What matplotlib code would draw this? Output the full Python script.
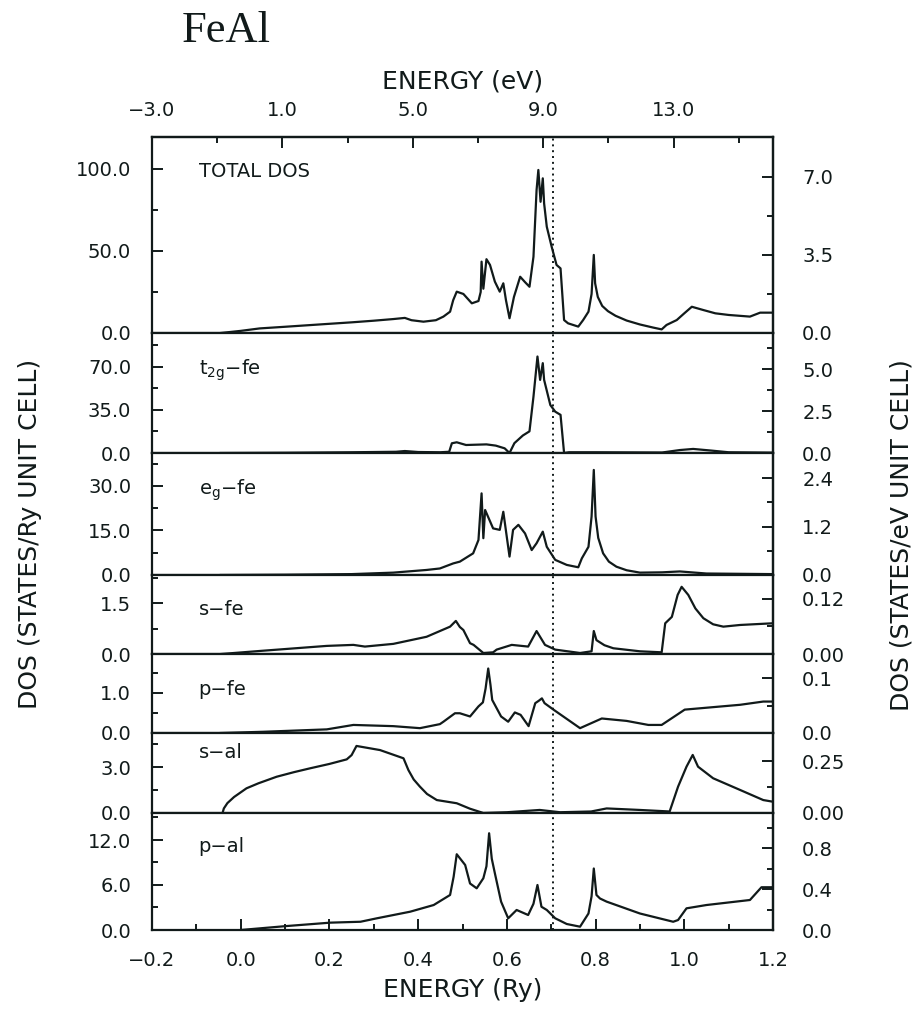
import matplotlib
matplotlib.use("Agg")
import matplotlib.pyplot as plt
from matplotlib.ticker import FixedLocator, FixedFormatter

RY2EV = 13.6057
EV_SHIFT = -0.28   # top axis offset
E_FERMI = 0.705

# ---- data (states/Ry unit cell) ----
e_total = [-0.045, 0.0, 0.043, 0.1, 0.194, 0.25, 0.30, 0.344, 0.370, 0.385, 0.412, 0.44, 0.457,
           0.472, 0.479, 0.487, 0.502, 0.521, 0.536, 0.541, 0.543, 0.547, 0.554, 0.562, 0.573,
           0.584, 0.592, 0.598, 0.606, 0.616, 0.630, 0.641, 0.651, 0.660, 0.667, 0.671, 0.676,
           0.681, 0.684, 0.690, 0.701, 0.712, 0.721, 0.729, 0.738, 0.761, 0.772, 0.784, 0.791,
           0.796, 0.799, 0.805, 0.815, 0.828, 0.845, 0.87, 0.90, 0.93, 0.949, 0.960, 0.983,
           1.0, 1.017, 1.043, 1.07, 1.10, 1.148, 1.171, 1.2]
dos_total = [0, 1.3, 2.8, 3.8, 5.5, 6.5, 7.5, 8.5, 9.2, 7.8, 6.9, 7.8, 10,
             13, 20, 25.2, 23.8, 18.1, 19.5, 25, 43.5, 27, 45, 41.5, 31.3,
             25.2, 30.3, 20, 9.0, 22, 34.3, 31, 28.2, 46.5, 87.2, 99.4, 80,
             94.3, 79, 64.8, 52.6, 41.5, 39.4, 7.9, 5.9, 3.9, 7.9, 13, 23.8,
             47.6, 30.3, 22, 16.5, 13.3, 10.5, 7.6, 5.2, 3.3, 2.2, 4.9, 7.9,
             12, 16, 14, 12, 11, 10, 12.4, 12.4]

e_t2g = [-0.045, 0.1, 0.25, 0.35, 0.37, 0.40, 0.45, 0.47, 0.476, 0.487, 0.508, 0.554, 0.575,
         0.595, 0.606, 0.617, 0.636, 0.651, 0.660, 0.669, 0.675, 0.681, 0.684, 0.698, 0.709,
         0.721, 0.729, 0.74, 0.80, 0.95, 0.99, 1.02, 1.06, 1.10, 1.2]
dos_t2g = [0, 0.2, 0.6, 1.0, 1.6, 0.8, 0.6, 1.0, 7.9, 8.7, 6.5, 7.0, 6.0,
           3.8, 0, 8, 14.2, 17.6, 45.8, 78.4, 59.4, 73, 59.4, 39, 33.6,
           31, 0, 0.6, 0.6, 0.4, 2.4, 3.3, 2.0, 0.6, 0.3]

e_eg = [-0.045, 0.1, 0.25, 0.344, 0.419, 0.449, 0.479, 0.494, 0.524, 0.536, 0.543, 0.547, 0.551,
        0.569, 0.584, 0.592, 0.606, 0.614, 0.626, 0.641, 0.656, 0.667, 0.681, 0.690, 0.709,
        0.735, 0.761, 0.769, 0.784, 0.791, 0.796, 0.800, 0.806, 0.817, 0.83, 0.847, 0.87,
        0.900, 0.95, 0.99, 1.05, 1.2]
dos_eg = [0, 0.1, 0.3, 0.8, 1.7, 2.2, 3.9, 4.5, 7.3, 11.8, 27.5, 12.4, 21.9,
          15.7, 15.2, 21.3, 6.2, 15.2, 16.9, 14, 8.4, 10.7, 14.6, 9.5, 5.1,
          3.4, 2.6, 5.6, 9.5, 19.7, 35.4, 19.7, 12.5, 7.3, 4.5, 2.8, 1.6,
          0.8, 0.9, 1.2, 0.5, 0.3]

e_sfe = [-0.044, 0.043, 0.194, 0.254, 0.28, 0.344, 0.419, 0.472, 0.485, 0.494, 0.502, 0.517,
         0.525, 0.547, 0.569, 0.577, 0.611, 0.648, 0.667, 0.686, 0.709, 0.765, 0.791, 0.796,
         0.802, 0.82, 0.840, 0.900, 0.949, 0.957, 0.972, 0.985, 0.994, 1.009, 1.025, 1.043,
         1.065, 1.088, 1.126, 1.2]
dos_sfe = [0, 0.09, 0.24, 0.27, 0.22, 0.30, 0.51, 0.81, 0.98, 0.80, 0.71, 0.32,
           0.27, 0.03, 0.05, 0.13, 0.27, 0.22, 0.68, 0.27, 0.13, 0.03, 0.08, 0.68,
           0.41, 0.26, 0.17, 0.08, 0.05, 0.91, 1.10, 1.75, 1.99, 1.75, 1.35, 1.06,
           0.88, 0.81, 0.86, 0.91]

e_pfe = [-0.045, 0.05, 0.194, 0.254, 0.344, 0.404, 0.449, 0.457, 0.483, 0.494, 0.517, 0.536,
         0.546, 0.552, 0.558, 0.563, 0.567, 0.587, 0.603, 0.618, 0.631, 0.649, 0.664, 0.672,
         0.679, 0.685, 0.705, 0.765, 0.814, 0.870, 0.919, 0.949, 1.001, 1.126, 1.178, 1.2]
dos_pfe = [0, 0.03, 0.09, 0.2, 0.17, 0.12, 0.22, 0.28, 0.49, 0.49, 0.41, 0.66,
           0.76, 1.1, 1.6, 1.2, 0.82, 0.41, 0.28, 0.51, 0.45, 0.17, 0.74, 0.80,
           0.86, 0.74, 0.58, 0.12, 0.36, 0.30, 0.2, 0.2, 0.58, 0.7, 0.78, 0.78]

e_sal = [-0.041, -0.038, -0.03, -0.015, 0.013, 0.04, 0.081, 0.12, 0.156, 0.20, 0.239, 0.25,
         0.261, 0.314, 0.367, 0.378, 0.39, 0.404, 0.42, 0.442, 0.487, 0.517, 0.547, 0.60,
         0.674, 0.72, 0.79, 0.825, 0.90, 0.967, 0.986, 1.005, 1.019, 1.031, 1.065, 1.126,
         1.178, 1.2]
dos_sal = [0, 0.3, 0.65, 1.05, 1.62, 1.95, 2.38, 2.68, 2.93, 3.22, 3.52, 3.8,
           4.4, 4.13, 3.59, 2.82, 2.2, 1.73, 1.25, 0.85, 0.64, 0.28, 0.0, 0.05,
           0.2, 0.05, 0.1, 0.3, 0.2, 0.1, 1.73, 3.04, 3.81, 3.04, 2.28, 1.51,
           0.85, 0.74]

e_pal = [0.0, 0.104, 0.202, 0.27, 0.307, 0.382, 0.435, 0.472, 0.480, 0.487, 0.506, 0.517,
         0.532, 0.547, 0.554, 0.560, 0.566, 0.573, 0.587, 0.603, 0.622, 0.648, 0.660, 0.669,
         0.678, 0.690, 0.709, 0.735, 0.765, 0.784, 0.791, 0.796, 0.802, 0.81, 0.825, 0.900,
         0.975, 0.986, 1.005, 1.05, 1.148, 1.174, 1.2]
dos_pal = [0, 0.53, 0.98, 1.1, 1.56, 2.44, 3.33, 4.67, 7.1, 10.1, 8.67, 6.2,
           5.56, 6.9, 8.5, 12.9, 9.5, 7.56, 3.78, 1.56, 2.67, 2.0, 3.5, 6.0,
           3.1, 2.67, 1.56, 0.8, 0.44, 2.2, 4.5, 8.2, 4.67, 4.2, 3.78, 2.2,
           1.1, 1.33, 2.89, 3.33, 4.0, 5.7, 5.7]

labels = ["TOTAL DOS", r"t$_{\mathregular{2g}}$−fe", r"e$_{\mathregular{g}}$−fe",
          "s−fe", "p−fe", "s−al", "p−al"]
series = [(e_total, dos_total), (e_t2g, dos_t2g), (e_eg, dos_eg), (e_sfe, dos_sfe),
          (e_pfe, dos_pfe), (e_sal, dos_sal), (e_pal, dos_pal)]
ymax = [119.5, 97.5, 41.1, 2.34, 1.96, 5.25, 15.6]
left_major = [[0, 50, 100], [0, 35, 70], [0, 15, 30], [0, 1.5], [0, 1.0], [0, 3.0], [0, 6, 12]]
left_minor = [[25, 75], [17.5, 52.5, 87.5], [7.5, 22.5, 37.5], [0.75, 2.25], [0.5, 1.5],
              [1.5, 4.5], [3, 9, 15]]
left_fmt = ["%.1f"] * 7
right_major = [[0, 3.5, 7.0], [0, 2.5, 5.0], [0, 1.2, 2.4], [0, 0.12], [0, 0.1], [0, 0.25],
               [0, 0.4, 0.8]]
right_minor = [[1.75, 5.25], [1.25, 3.75, 6.25], [0.6, 1.8], [0.06], [0.05], [0.125],
               [0.2, 0.6, 1.0]]
right_fmt = ["%.1f", "%.1f", "%.1f", "%.2f", "%.1f", "%.2f", "%.1f"]
label_y = [0.797, 0.65, 0.656, 0.494, 0.481, 0.684, 0.669]

top_major = [-3.0, 1.0, 5.0, 9.0, 13.0]
top_minor = [-1.0, 3.0, 7.0, 11.0, 15.0]
bottom_major = [-0.2, 0.0, 0.2, 0.4, 0.6, 0.8, 1.0, 1.2]
bottom_minor = [-0.1, 0.1, 0.3, 0.5, 0.7, 0.9, 1.1]

W, H = 923, 1013
bounds = [137, 333, 453, 575, 654, 733, 813, 930]   # panel edges, px from top
x0, x1 = 152, 773


def signed(v):
    return "%.1f" % v if v >= 0 else "−%.1f" % -v


plt.rcParams['font.family'] = ['DejaVu Sans']
plt.rcParams['mathtext.fontset'] = 'dejavusans'
fig = plt.figure(figsize=(W / 100, H / 100), dpi=100)
fig.patch.set_facecolor('white')

ink = '#111a1a'
tick_kw = dict(direction='in', color=ink, labelcolor=ink, labelsize=14)

axes = []
for i in range(7):
    top, bot = bounds[i], bounds[i + 1]
    ax = fig.add_axes([x0 / W, 1 - bot / H, (x1 - x0) / W, (bot - top) / H])
    axes.append(ax)
    xs, ys = series[i]
    ax.plot(xs, ys, color=ink, lw=1.6, solid_joinstyle='round')
    ax.axvline(E_FERMI, color=ink, lw=1.4, ls=(0, (1, 2)))
    ax.set_xlim(-0.2, 1.2)
    ax.set_ylim(0, ymax[i])
    for s in ax.spines.values():
        s.set_linewidth(1.6)
        s.set_color(ink)

    ax.yaxis.set_major_locator(FixedLocator(left_major[i]))
    ax.yaxis.set_minor_locator(FixedLocator(left_minor[i]))
    ax.yaxis.set_major_formatter(FixedFormatter([left_fmt[i] % v for v in left_major[i]]))
    ax.tick_params(axis='y', which='major', length=8, width=1.4, pad=15, **tick_kw)
    ax.tick_params(axis='y', which='minor', length=4.5, width=1.4, direction='in', color=ink)

    sec = ax.secondary_yaxis('right', functions=(lambda y: y / RY2EV, lambda y: y * RY2EV))
    sec.spines['right'].set_linewidth(1.6)
    sec.spines['right'].set_color(ink)
    sec.yaxis.set_major_locator(FixedLocator(right_major[i]))
    sec.yaxis.set_minor_locator(FixedLocator(right_minor[i]))
    sec.yaxis.set_major_formatter(FixedFormatter([right_fmt[i] % v for v in right_major[i]]))
    sec.tick_params(axis='y', which='major', length=8, width=1.4, pad=21, **tick_kw)
    sec.tick_params(axis='y', which='minor', length=4.5, width=1.4, direction='in', color=ink)

    ax.text(0.075, label_y[i], labels[i], transform=ax.transAxes, ha='left', va='baseline',
            fontsize=14, color=ink)

    if i < 6:
        ax.tick_params(axis='x', which='both', bottom=False, labelbottom=False)

# bottom energy axis (Ry)
axb = axes[-1]
axb.xaxis.set_major_locator(FixedLocator(bottom_major))
axb.xaxis.set_minor_locator(FixedLocator(bottom_minor))
axb.xaxis.set_major_formatter(FixedFormatter([signed(v) for v in bottom_major]))
axb.tick_params(axis='x', which='major', length=8, width=1.4, pad=15, **tick_kw)
axb.tick_params(axis='x', which='minor', length=4.5, width=1.4, direction='in', color=ink)
axb.set_xlabel("ENERGY (Ry)", fontsize=18, color=ink, labelpad=6)

# top energy axis (eV)
axt = axes[0]
topx = axt.secondary_xaxis('top', functions=(lambda x: x * RY2EV + EV_SHIFT,
                                             lambda x: (x - EV_SHIFT) / RY2EV))
topx.spines['top'].set_linewidth(1.6)
topx.spines['top'].set_color(ink)
topx.xaxis.set_major_locator(FixedLocator(top_major))
topx.xaxis.set_minor_locator(FixedLocator(top_minor))
topx.xaxis.set_major_formatter(FixedFormatter([signed(v) for v in top_major]))
topx.tick_params(axis='x', which='major', length=8, width=1.4, pad=12, **tick_kw)
topx.tick_params(axis='x', which='minor', length=4.5, width=1.4, direction='in', color=ink)
topx.set_xlabel("ENERGY (eV)", fontsize=18, color=ink, labelpad=9)

fig.text(30 / W, 1 - 534 / H, "DOS (STATES/Ry UNIT CELL)", rotation=90, ha='center',
         va='center', fontsize=18, color=ink)
fig.text(902 / W, 1 - 535 / H, "DOS (STATES/eV UNIT CELL)", rotation=90, ha='center',
         va='center', fontsize=18, color=ink)
fig.text(182 / W, 1 - 42 / H, "FeAl", fontsize=32, family='Liberation Serif', color=ink,
         ha='left', va='baseline')

fig.savefig("out.png", dpi=100, facecolor='white')
